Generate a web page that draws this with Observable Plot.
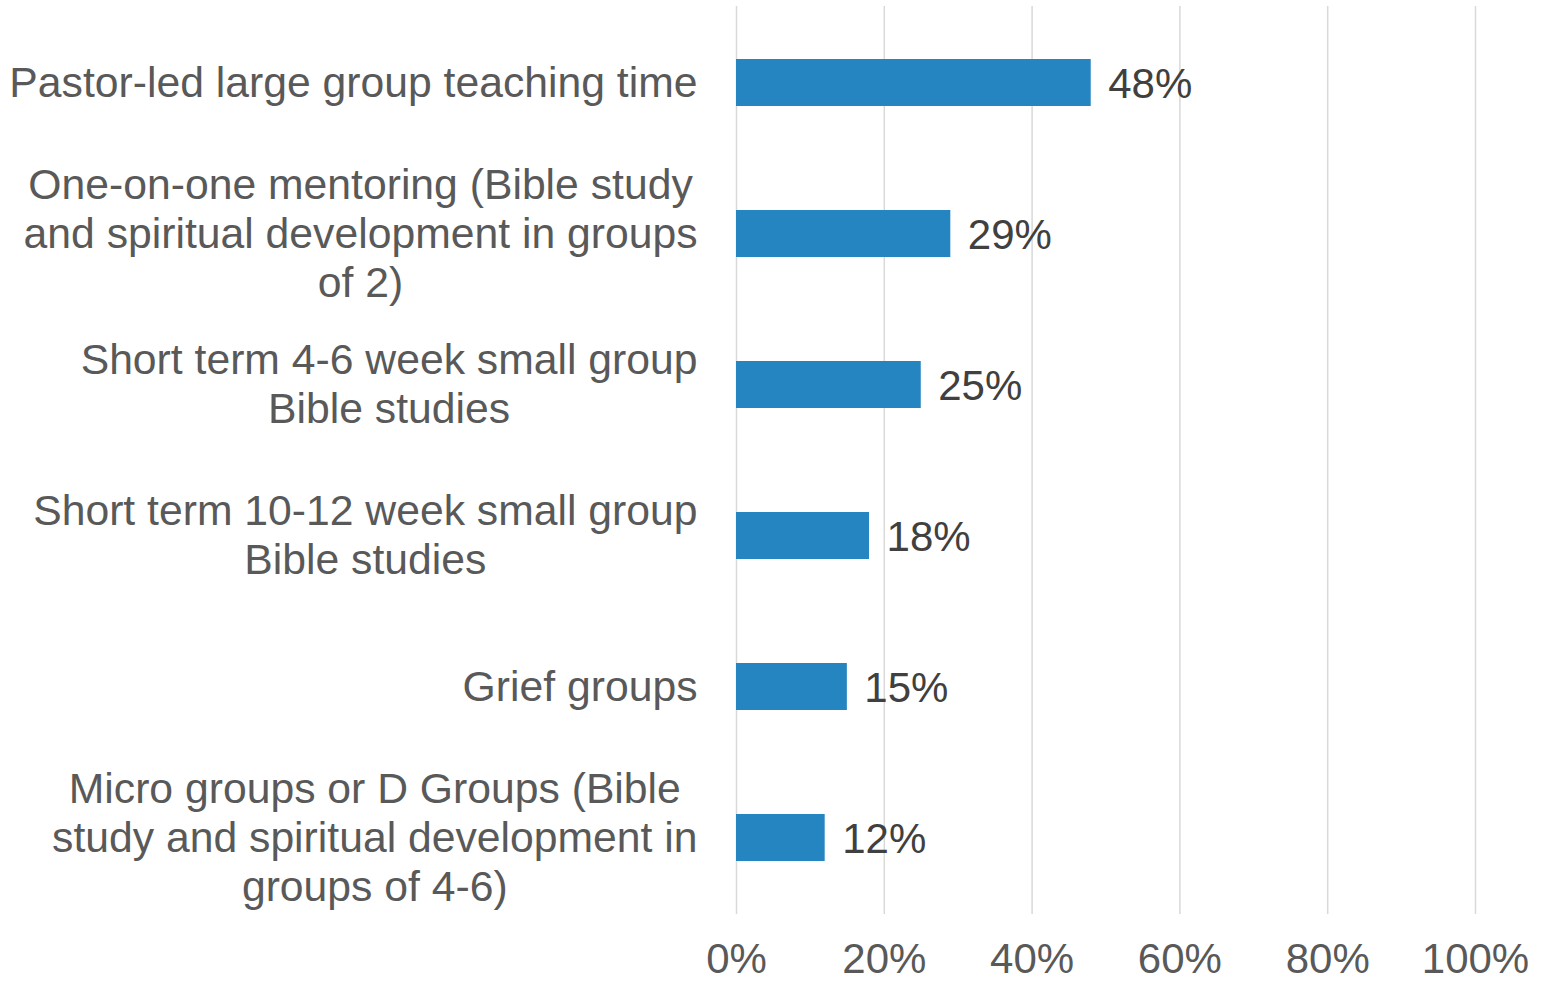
<!DOCTYPE html>
<html>
<head>
<meta charset="utf-8">
<script src="https://cdn.jsdelivr.net/npm/d3@7"></script>
<script src="https://cdn.jsdelivr.net/npm/@observablehq/plot@0.6"></script>
<style>
  html, body { margin: 0; padding: 0; background: #fff; }
  #chart svg { display: block; }
</style>
</head>
<body>
<div id="chart"></div>
<script>
const categories = [
  "Pastor-led large group teaching time",
  "One-on-one mentoring (Bible study\nand spiritual development in groups\nof 2)",
  "Short term 4-6 week small group\nBible studies",
  "Short term 10-12 week small group\nBible studies",
  "Grief groups",
  "Micro groups or D Groups (Bible\nstudy and spiritual development in\ngroups of 4-6)"
];
const values = [48, 29, 25, 18, 15, 12];
const xTicks = [0, 20, 40, 60, 80, 100];

const data = categories.map((c, i) => ({category: c, value: values[i]}));

const FONT = "'Liberation Sans', Arial, Helvetica, sans-serif";
const FS = 42;
const LFS = 42.7;

// measure widest line for each label so each wrapped block is centred and right-aligned
const ctx = document.createElement("canvas").getContext("2d");
ctx.font = `${LFS}px ${FONT}`;
const blockWidth = c => d3.max(c.split("\n"), l => ctx.measureText(l).width);

const labelMarks = data.map(d => Plot.text([d], {
  x: () => 0,
  y: "category",
  text: "category",
  textAnchor: "middle",
  lineAnchor: "middle",
  lineHeight: 1.15,
  dx: -(39 + blockWidth(d.category) / 2),
  dy: -2,
  fill: "#595959",
  fontSize: LFS
}));

const chart = Plot.plot({
  width: 1541,
  height: 983,
  marginLeft: 736,
  marginRight: 66,
  marginTop: 6,
  marginBottom: 69,
  style: {fontFamily: FONT, background: "#fff"},
  x: {domain: [0, 100], ticks: xTicks},
  y: {domain: categories, padding: 0, axis: null},
  marks: [
    Plot.gridX(xTicks, {stroke: "#d9d9d9", strokeOpacity: 1, strokeWidth: 1.5}),
    Plot.axisX(xTicks, {
      tickSize: 0,
      tickPadding: 29,
      tickFormat: d => d + "%",
      fontSize: FS,
      fill: "#595959",
      label: null
    }),
    Plot.barX(data, {
      x: "value",
      y: "category",
      fill: "#2585c0",
      insetTop: 52,
      insetBottom: 52
    }),
    Plot.text(data, {
      x: "value",
      y: "category",
      text: d => d.value + "%",
      textAnchor: "start",
      dx: 17,
      dy: 2,
      fill: "#404040",
      fontSize: FS
    }),
    ...labelMarks
  ]
});
document.getElementById("chart").appendChild(chart);
</script>
</body>
</html>
